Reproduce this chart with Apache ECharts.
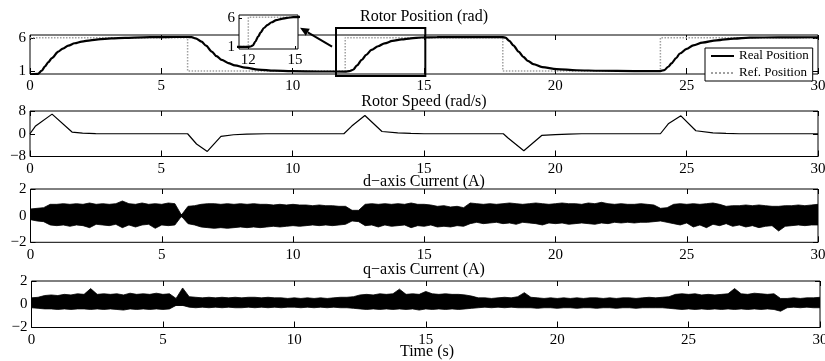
<!DOCTYPE html>
<html><head><meta charset="utf-8">
<script src="https://cdn.jsdelivr.net/npm/echarts/dist/echarts.min.js"></script>
<style>html,body{margin:0;padding:0;background:#fff}#c{width:825px;height:361px}</style>
</head><body><div id="c"></div>
<script>
// ---------- data ----------
const xTicks = [0, 5, 10, 15, 20, 25, 30];
const posTicks = [1, 6];
const insetXTicks = [12, 15];

const posTime  = [0,0.3,0.45,0.57,0.7,0.83,1.08,1.25,1.46,1.7,1.97,2.3,2.6,3.1,3.62,4.3,4.87,5.5,6.0,6.15,6.3,6.53,6.7,6.92,7.1,7.3,7.55,7.8,8.2,8.69,9.3,9.96,11,12.0,12.15,12.3,12.45,12.63,12.8,13.0,13.25,13.5,13.8,14.15,14.5,14.9,15.5,16.5,18.0,18.1,18.25,18.4,18.6,18.78,18.95,19.16,19.5,20.05,20.8,21.7,23,24.0,24.15,24.3,24.42,24.6,24.74,25.0,25.25,25.6,26.14,26.8,27.4,28.5,30];
const posValue = [0.55,0.62,1.1,1.75,2.4,3.0,4.0,4.45,4.9,5.25,5.5,5.7,5.84,5.98,6.08,6.15,6.18,6.2,6.2,6.18,6.0,5.5,4.9,4.0,3.3,2.74,2.25,1.9,1.55,1.27,1.1,1.02,0.98,0.97,1.03,1.24,1.9,2.74,3.5,4.24,4.8,5.24,5.6,5.84,6.0,6.12,6.17,6.18,6.18,6.1,5.6,4.94,4.0,3.2,2.6,2.1,1.65,1.34,1.17,1.09,1.05,1.04,1.2,1.7,2.2,3.0,3.7,4.4,4.94,5.35,5.7,5.95,6.1,6.15,6.16];

const refTime  = [0,6,6,12,12,18,18,24,24,30];
const refValue = [6.1,6.1,1.05,1.05,6.1,6.1,1.05,1.05,6.1,6.1];

const speedTime  = [0,0.2,0.84,1.6,2.0,2.5,3,6.0,6.34,6.75,7.27,7.75,8.25,9,11.95,12.25,12.75,13.4,14,14.5,15,18.02,18.2,18.8,19.48,20,20.5,21,24.0,24.3,24.78,25.35,26,26.5,27,30];
const speedValue = [0,2.6,6.9,0.6,0.2,0.05,0,0,-3.6,-6.2,-0.95,-0.35,-0.1,0,0,2.7,6.4,0.8,0.3,0.1,0,0,-1.5,-6.0,-0.6,-0.3,-0.1,0,0,3.5,6.3,1.05,0.3,0.1,0,0];

// envelopes of the noisy currents, one value every 0.25 s
const bandStep = 0.25;
const dUpper = [
 0.5,0.55,0.6,0.85, 0.85,0.9,0.85,0.9, 0.85,0.95,0.85,0.9, 0.85,0.9,1.1,0.9, 0.85,0.95,0.85,0.9,
 0.85,0.95,0.9,0.05, 0.7,0.75,0.85,0.9, 0.9,0.85,0.9,0.85, 0.9,0.85,0.9,0.85, 0.85,0.8,0.85,0.8,
 0.85,0.8,0.8,0.75, 0.8,0.75,0.75,0.7, 0.7,0.4,0.4,0.85, 0.9,0.85,0.9,0.85, 0.9,0.85,0.95,0.85,
 0.85,0.8,0.7,0.75, 0.65,0.7,0.6,0.95, 0.9,0.85,0.9,0.85, 0.9,0.95,0.9,0.85, 0.9,0.95,0.9,0.85,
 0.9,0.95,0.9,0.9, 0.85,0.95,0.9,1.0, 0.9,0.85,0.9,0.85, 0.85,0.9,0.85,0.8, 0.55,0.6,0.85,0.9,
 0.85,0.9,0.85,0.9, 0.95,0.85,0.7,0.75, 0.75,0.8,0.75,0.8, 0.75,0.7,0.7,0.75, 0.75,0.8,0.75,0.8,
 0.85];
const dLower = [
 -0.3,-0.4,-0.45,-0.7, -0.75,-0.7,-0.8,-0.7, -0.75,-0.9,-0.65,-0.7, -0.75,-0.65,-0.9,-0.7, -0.85,-0.7,-0.65,-0.95,
 -0.7,-0.75,-0.7,-0.05, -0.6,-0.7,-0.85,-0.9, -0.95,-0.9,-0.95,-0.9, -0.85,-0.9,-0.85,-0.9, -0.85,-0.8,-0.85,-0.8,
 -0.75,-0.8,-0.75,-0.7, -0.75,-0.7,-0.75,-0.7, -0.65,-0.4,-0.45,-0.75, -0.7,-0.85,-0.7,-0.8, -0.75,-0.7,-0.9,-0.75,
 -0.8,-0.7,-0.85,-0.8, -0.85,-0.75,-0.8,-0.6, -0.5,-0.6,-0.55,-0.5, -0.6,-0.55,-0.65,-0.5, -0.55,-0.6,-0.7,-0.55,
 -0.6,-0.55,-0.65,-0.6, -0.55,-0.6,-0.65,-0.55, -0.6,-0.5,-0.55,-0.5, -0.55,-0.5,-0.5,-0.45, -0.4,-0.5,-0.6,-0.7,
 -0.55,-0.85,-0.7,-0.9, -0.65,-0.75,-0.6,-0.8, -0.7,-0.85,-0.75,-0.9, -0.8,-0.75,-1.15,-0.8, -0.75,-0.7,-0.75,-0.7,
 -0.7];
const qUpper = [
 0.55,0.6,0.75,0.8, 0.75,0.85,0.8,0.9, 0.85,1.35,0.85,0.9, 0.85,0.9,0.8,0.95, 0.85,0.9,0.85,0.95,
 0.85,0.9,0.5,1.4, 0.65,0.6,0.55,0.6, 0.55,0.6,0.55,0.6, 0.55,0.6,0.6,0.55, 0.6,0.55,0.55,0.5,
 0.55,0.5,0.55,0.5, 0.55,0.5,0.55,0.6, 0.6,0.65,0.8,0.85, 0.8,0.9,0.85,0.9, 1.3,0.85,0.9,0.85,
 1.1,0.9,0.85,0.9, 0.85,0.85,0.8,0.7, 0.55,0.55,0.5,0.55, 0.6,0.55,0.65,1.0, 0.6,0.55,0.5,0.55,
 0.5,0.55,0.5,0.55, 0.5,0.55,0.55,0.5, 0.55,0.5,0.55,0.55, 0.5,0.55,0.6,0.55, 0.6,0.65,0.85,0.9,
 0.85,0.9,0.8,0.85, 0.8,0.85,0.9,1.35, 0.9,0.85,0.95,0.9, 0.85,0.9,0.5,0.5, 0.55,0.5,0.55,0.55,
 0.6];
const qLower = [
 -0.3,-0.35,-0.4,-0.4, -0.45,-0.4,-0.45,-0.4, -0.4,-0.45,-0.4,-0.45, -0.4,-0.45,-0.5,-0.4, -0.45,-0.4,-0.45,-0.4,
 -0.45,-0.4,-0.1,-0.1, -0.25,-0.3,-0.25,-0.3, -0.25,-0.3,-0.25,-0.3, -0.3,-0.25,-0.3,-0.25, -0.3,-0.25,-0.3,-0.25,
 -0.25,-0.3,-0.25,-0.3, -0.25,-0.3,-0.25,-0.3, -0.3,-0.35,-0.4,-0.45, -0.4,-0.45,-0.4,-0.45, -0.4,-0.45,-0.4,-0.5,
 -0.4,-0.45,-0.4,-0.45, -0.4,-0.45,-0.4,-0.35, -0.3,-0.25,-0.3,-0.25, -0.3,-0.25,-0.3,-0.3, -0.3,-0.35,-0.3,-0.3,
 -0.35,-0.3,-0.3,-0.35, -0.3,-0.3,-0.35,-0.3, -0.3,-0.35,-0.3,-0.3, -0.35,-0.3,-0.3,-0.3, -0.3,-0.35,-0.4,-0.45,
 -0.4,-0.45,-0.4,-0.45, -0.4,-0.45,-0.4,-0.45, -0.4,-0.45,-0.4,-0.45, -0.4,-0.45,-0.6,-0.3, -0.25,-0.3,-0.25,-0.3,
 -0.3];

// ---------- chart ----------
const FONT = 'Liberation Serif';
const pairs = (xs, ys) => xs.map((x, i) => [x, ys[i]]);
const bandT = dUpper.map((_, i) => i * bandStep);
const minus = v => String(v).replace('-', '\u2212');

const chart = echarts.init(document.getElementById('c'), null, {renderer: 'canvas'});

const grids = [
  {left: 30,   top: 35,  width: 788,   height: 39},
  {left: 30,   top: 111, width: 788,   height: 45.5},
  {left: 30.5, top: 189, width: 787.5, height: 53.3},
  {left: 31.5, top: 281, width: 788.5, height: 46.5},
  {left: 239,  top: 15,  width: 59,    height: 34, z: 10, backgroundColor: '#fff'}
].map(g => Object.assign({show: true, borderColor: '#000', borderWidth: 1,
  containLabel: false, outerBoundsMode: 'none', backgroundColor: 'transparent'}, g));

const lbl = {color: '#000', fontFamily: FONT, fontSize: 15};
const tick = (len) => ({show: true, inside: true, length: len, lineStyle: {color: '#000', width: 1}});
const noLine = {show: false, onZero: false};

const xAxes = [], yAxes = [];
const yRanges = [
  {min: 0.6, max: 6.5, custom: posTicks},
  {min: -8, max: 8, interval: 8},
  {min: -2, max: 2, interval: 2},
  {min: -2, max: 2, interval: 2}
];
for (let g = 0; g < 4; g++) {
  xAxes.push({type: 'value', gridIndex: g, position: 'bottom', min: 0, max: 30, interval: 5,
    axisLine: noLine, splitLine: {show: false}, axisTick: tick(6),
    axisLabel: Object.assign({margin: 5, formatter: v => minus(v)}, lbl)});
  xAxes.push({type: 'value', gridIndex: g, position: 'top', min: 0, max: 30, interval: 5,
    axisLine: noLine, splitLine: {show: false}, axisTick: tick(5), axisLabel: {show: false}});
  const r = yRanges[g];
  const base = {type: 'value', gridIndex: g, min: r.min, max: r.max, axisLine: noLine, splitLine: {show: false}};
  if (r.interval) base.interval = r.interval;
  const lt = tick(5), rt = tick(5);
  const la = Object.assign({margin: 4, formatter: v => minus(v)}, lbl);
  if (r.custom) { lt.customValues = r.custom; rt.customValues = r.custom; la.customValues = r.custom; }
  yAxes.push(Object.assign({}, base, {position: 'left', axisTick: lt, axisLabel: la}));
  yAxes.push(Object.assign({}, base, {position: 'right', axisTick: rt, axisLabel: {show: false}}));
}
// inset axes
xAxes.push({type: 'value', gridIndex: 4, position: 'bottom', min: 11.4, max: 15.2, z: 11,
  axisLine: noLine, splitLine: {show: false},
  axisTick: Object.assign(tick(3), {customValues: insetXTicks}),
  axisLabel: Object.assign({margin: 4, customValues: insetXTicks}, lbl)});
yAxes.push({type: 'value', gridIndex: 4, position: 'left', min: 0.6, max: 6.5, z: 11,
  axisLine: noLine, splitLine: {show: false},
  axisTick: Object.assign(tick(3), {customValues: posTicks}),
  axisLabel: Object.assign({margin: 4, customValues: posTicks}, lbl)});

const realStyle = {color: '#000', width: 2.2};
const refStyle = {color: '#a0a0a0', width: 1.5, type: 'dotted'};
const lineBase = {type: 'line', showSymbol: false, symbol: 'none', animation: false, silent: true};

// a noise band: upper envelope filled down past 0, lower envelope filled up past 0 (overlap hides the seam)
const band = (xi, yi, up, lo) => ([[up, -0.12], [lo, 0.12]].map(([arr, org]) =>
  Object.assign({}, lineBase, {xAxisIndex: xi, yAxisIndex: yi, data: pairs(bandT, arr),
    lineStyle: {color: '#000', width: 0.8}, areaStyle: {color: '#000', opacity: 1, origin: org}})));

const series = [
  Object.assign({}, lineBase, {name: 'Ref. Position', xAxisIndex: 0, yAxisIndex: 0, data: pairs(refTime, refValue), lineStyle: refStyle, itemStyle: {color: '#a0a0a0'}}),
  Object.assign({}, lineBase, {name: 'Real Position', xAxisIndex: 0, yAxisIndex: 0, data: pairs(posTime, posValue), smooth: 0.3, smoothMonotone: 'x', lineStyle: realStyle, itemStyle: {color: '#000'}}),
  Object.assign({}, lineBase, {name: 'speed', xAxisIndex: 2, yAxisIndex: 2, data: pairs(speedTime, speedValue), lineStyle: {color: '#000', width: 1.2}}),
  ...band(4, 4, dUpper, dLower),
  ...band(6, 6, qUpper, qLower),
  Object.assign({}, lineBase, {name: 'Ref. Position', xAxisIndex: 8, yAxisIndex: 8, z: 12, data: pairs(refTime, refValue), lineStyle: refStyle, itemStyle: {color: '#a0a0a0'}}),
  Object.assign({}, lineBase, {name: 'Real Position', xAxisIndex: 8, yAxisIndex: 8, z: 12, data: pairs(posTime, posValue), smooth: 0.3, smoothMonotone: 'x', lineStyle: realStyle, itemStyle: {color: '#000'}})
];

chart.setOption({
  animation: false,
  backgroundColor: '#fff',
  grid: grids,
  xAxis: xAxes,
  yAxis: yAxes,
  legend: {
    data: ['Real Position', 'Ref. Position'], orient: 'vertical', left: 705, top: 48,
    itemWidth: 23, itemHeight: 12, itemGap: 3, padding: [1, 4, 1, 5], selectedMode: false,
    backgroundColor: '#fff', borderColor: '#000', borderWidth: 1, borderRadius: 0,
    itemStyle: {color: 'transparent', borderWidth: 0, opacity: 0},
    textStyle: {color: '#000', fontFamily: FONT, fontSize: 13, lineHeight: 14}
  },
  series: series
});

// annotations computed through the axes
const px = (v) => chart.convertToPixel({xAxisIndex: 0, yAxisIndex: 0}, v);
const r0 = px([11.65, 7.55]), r1 = px([15.05, 0.3]);
const a0 = px([11.5, 4.75]), a1 = px([10.28, 7.6]);
const dx = a1[0] - a0[0], dy = a1[1] - a0[1], L = Math.hypot(dx, dy);
const ux = dx / L, uy = dy / L, hl = 9, hw = 4;
const bx = a1[0] - ux * hl, by = a1[1] - uy * hl;

const title = (text, x, y) => ({type: 'text', z: 30, style: {text, x, y, align: 'center', verticalAlign: 'middle',
  font: '16px "' + FONT + '"', fill: '#000'}});

chart.setOption({
  graphic: [
    title('Rotor Position (rad)', 424, 17),
    title('Rotor Speed (rad/s)', 424, 101.5),
    title('d\u2212axis Current (A)', 424, 181.5),
    title('q\u2212axis Current (A)', 424, 270),
    title('Time (s)', 427, 352),
    {type: 'rect', z: 20, shape: {x: r0[0], y: r0[1], width: r1[0] - r0[0], height: r1[1] - r0[1]},
      style: {fill: 'none', stroke: '#000', lineWidth: 2}},
    {type: 'line', z: 20, shape: {x1: a0[0], y1: a0[1], x2: bx, y2: by}, style: {stroke: '#000', lineWidth: 2}},
    {type: 'polygon', z: 20, shape: {points: [[a1[0], a1[1]], [bx - uy * hw, by + ux * hw], [bx + uy * hw, by - ux * hw]]},
      style: {fill: '#000'}}
  ]
});
</script></body></html>
